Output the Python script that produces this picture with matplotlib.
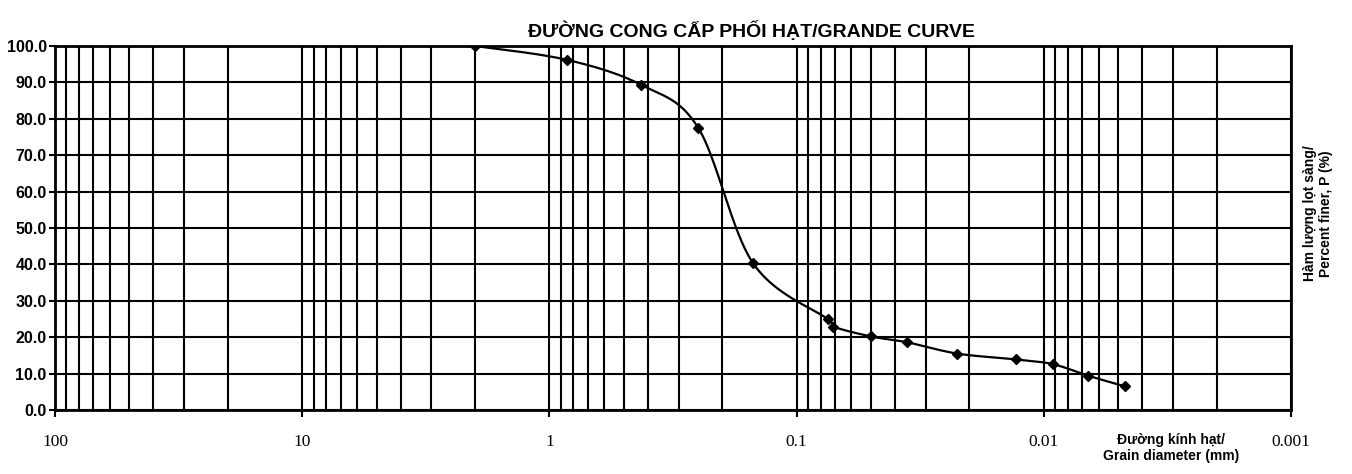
import numpy as np
import matplotlib.pyplot as plt
from matplotlib.ticker import LogLocator, FixedLocator, FixedFormatter, NullFormatter

# Grain size distribution
diameter = [2.0, 0.85, 0.425, 0.25, 0.15, 0.075, 0.071, 0.050,
            0.0357, 0.0224, 0.0130, 0.0092, 0.0066, 0.0047]
passing = [100.0, 96.2, 89.3, 77.5, 40.3, 25.0, 22.9, 20.2,
           18.6, 15.5, 13.9, 12.6, 9.4, 6.5]

y_ticks = [0, 10, 20, 30, 40, 50, 60, 70, 80, 90, 100]
x_ticks = [100, 10, 1, 0.1, 0.01, 0.001]
x_ticklabels = ['100', '10', '1', '0.1', '0.01', '0.001']

title = 'ĐƯỜNG CONG CẤP PHỐI HẠT/GRANDE CURVE'
ylabel = 'Hàm lượng lọt sàng/\nPercent finer, P (%)'
xlabel = 'Đường kính hạt/\nGrain diameter (mm)'


def smooth(x, y, n=40):
    # Excel-like smoothed line: bezier through points in screen-ish space
    sx, sy = 247.0, 3.65
    P = np.column_stack([np.log10(x) * sx, np.array(y) * sy])
    E = np.vstack([P[0], P, P[-1]])
    t = np.linspace(0, 1, n)[:, None]
    out = []
    for i in range(len(P) - 1):
        b0 = E[i + 1]
        b3 = E[i + 2]
        b1 = b0 + (E[i + 2] - E[i]) / 6
        b2 = b3 - (E[i + 3] - E[i + 1]) / 6
        seg = ((1 - t) ** 3) * b0 + 3 * ((1 - t) ** 2) * t * b1 \
            + 3 * (1 - t) * t ** 2 * b2 + t ** 3 * b3
        out.append(seg)
    out = np.vstack(out)
    return 10 ** (out[:, 0] / sx), out[:, 1] / sy


fig = plt.figure(figsize=(13.52, 4.74), dpi=100)
ax = fig.add_axes([0.0407, 0.135, 0.9142, 0.768])

ax.set_xscale('log')
ax.set_xlim(100, 0.001)
ax.set_ylim(0, 100)

ax.xaxis.set_major_locator(FixedLocator(x_ticks))
ax.xaxis.set_major_formatter(FixedFormatter(x_ticklabels))
ax.xaxis.set_minor_locator(LogLocator(base=10, subs=np.arange(2, 10)))
ax.xaxis.set_minor_formatter(NullFormatter())
ax.yaxis.set_major_locator(FixedLocator(y_ticks))
ax.set_yticklabels([f'{v:.1f}' for v in y_ticks])

ax.grid(which='both', axis='x', color='black', lw=1.5)
ax.grid(which='major', axis='y', color='black', lw=1.5)
ax.set_axisbelow(True)
for s in ax.spines.values():
    s.set_linewidth(2)
    s.set_color('black')

ax.tick_params(axis='x', which='major', direction='out', length=5, width=1.5, pad=12)
ax.tick_params(axis='x', which='minor', length=0)
ax.tick_params(axis='y', direction='out', length=4, width=1.5, pad=2)
for lb in ax.get_xticklabels():
    lb.set_family(['Liberation Serif', 'DejaVu Serif'])
    lb.set_fontsize(12.5)
for lb in ax.get_yticklabels():
    lb.set_family(['Liberation Sans', 'DejaVu Sans'])
    lb.set_fontweight('bold')
    lb.set_fontsize(11.5)

cx, cy = smooth(diameter, passing)
ax.plot(cx, cy, color='black', lw=1.6, zorder=3)
ax.plot(diameter, passing, ls='none', marker='D', ms=5, color='black', zorder=4)

fig.text(0.556, 0.935, title, ha='center', va='center', fontsize=14, fontweight='bold',
         family=['Liberation Sans', 'DejaVu Sans'])
fig.text(0.975, 0.55, ylabel, ha='center', va='center', rotation=90, fontsize=10,
         fontweight='bold', family=['Liberation Sans', 'DejaVu Sans'], linespacing=1.2)
fig.text(0.866, 0.055, xlabel, ha='center', va='center', fontsize=10,
         fontweight='bold', family=['Liberation Sans', 'DejaVu Sans'], linespacing=1.2)

fig.savefig('out.png', dpi=100)
